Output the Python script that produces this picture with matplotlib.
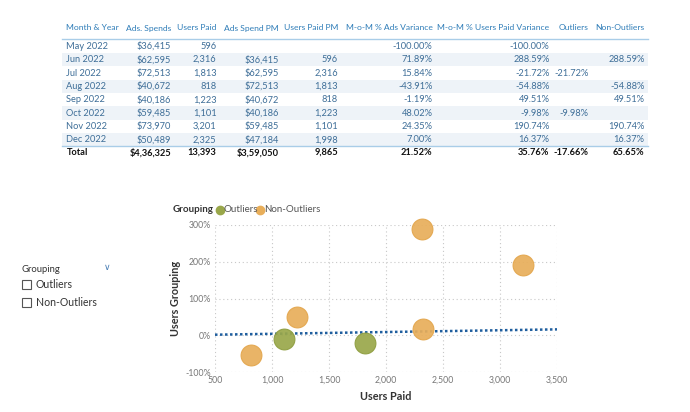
import matplotlib
matplotlib.use("Agg")
import matplotlib.pyplot as plt
from matplotlib.patches import Rectangle
from matplotlib.lines import Line2D

plt.rcParams['font.family'] = ['Lato', 'DejaVu Sans']

# ---------------- data ----------------
months = ["May 2022", "Jun 2022", "Jul 2022", "Aug 2022", "Sep 2022", "Oct 2022", "Nov 2022", "Dec 2022"]
ads_spends = [36415, 62595, 72513, 40672, 40186, 59485, 73970, 50489]
users_paid = [596, 2316, 1813, 818, 1223, 1101, 3201, 2325]
ads_spend_pm = [None, 36415, 62595, 72513, 40672, 40186, 59485, 47184]
users_paid_pm = [None, 596, 2316, 1813, 818, 1223, 1101, 1998]
ads_var = [-100.00, 71.89, 15.84, -43.91, -1.19, 48.02, 24.35, 7.00]
users_var = [-100.00, 288.59, -21.72, -54.88, 49.51, -9.98, 190.74, 16.37]
outliers = [None, None, -21.72, None, None, -9.98, None, None]
non_outliers = [None, 288.59, None, -54.88, 49.51, None, 190.74, 16.37]
totals = [436325, 13393, 359050, 9865, 21.52, 35.76, -17.66, 65.65]
headers = ["Month & Year", "Ads. Spends", "Users Paid", "Ads Spend PM", "Users Paid PM",
           "M-o-M % Ads Variance", "M-o-M % Users Paid Variance", "Outliers", "Non-Outliers"]
trend_x = [500, 3500]
trend_y = [1.5, 16.0]
x_ticks = [500, 1000, 1500, 2000, 2500, 3000, 3500]
y_ticks = [-100, 0, 100, 200, 300]

W, H = 690, 412
fig = plt.figure(figsize=(W / 100, H / 100), dpi=100)
fig.patch.set_facecolor("white")


def fx(px):
    return px / W


def fy(py):
    return 1 - py / H


def indian(n):
    s = str(int(n))
    if len(s) <= 3:
        return s
    last3 = s[-3:]
    rest = s[:-3]
    parts = []
    while len(rest) > 2:
        parts.insert(0, rest[-2:])
        rest = rest[:-2]
    if rest:
        parts.insert(0, rest)
    return ",".join(parts) + "," + last3


def money(v):
    return "" if v is None else "$" + indian(v)


def num(v):
    return "" if v is None else f"{v:,}"


def pct(v):
    return "" if v is None else f"{v:.2f}%"


# ---------------- table ----------------
hdr_col = "#2F7DB8"
row_col = "#3E6E98"
line_col = "#A9CDE8"
band_col = "#EEF3F8"
fs = 6.7
hfs = 6.1

left_x = 66.5
right_x = [171, 216.5, 279, 338, 432.5, 549.5, 588.5, 644.5]
header_y = 28
row_y0 = 46.3
row_h = 13.35

fig.text(fx(left_x), fy(header_y), headers[0], color=hdr_col, fontsize=hfs, ha="left", va="center")
for i, h in enumerate(headers[1:]):
    fig.text(fx(right_x[i]), fy(header_y), h, color=hdr_col, fontsize=hfs, ha="right", va="center")

fig.add_artist(Line2D([fx(62), fx(648)], [fy(38.5), fy(38.5)], color=line_col, lw=1.0))

for r, m in enumerate(months):
    yc = row_y0 + r * row_h
    if r % 2 == 1:
        fig.add_artist(Rectangle((fx(62), fy(yc + row_h / 2)), fx(648) - fx(62), row_h / H,
                                 facecolor=band_col, edgecolor="none", zorder=0))
    vals = [money(ads_spends[r]), num(users_paid[r]), money(ads_spend_pm[r]), num(users_paid_pm[r]),
            pct(ads_var[r]), pct(users_var[r]), pct(outliers[r]), pct(non_outliers[r])]
    fig.text(fx(left_x), fy(yc), m, color=row_col, fontsize=fs, ha="left", va="center")
    for i, v in enumerate(vals):
        fig.text(fx(right_x[i]), fy(yc), v, color=row_col, fontsize=fs, ha="right", va="center")

fig.add_artist(Line2D([fx(62), fx(648)], [fy(146), fy(146)], color=line_col, lw=1.0))

ty = 152.5
tot_strs = [money(totals[0]), num(totals[1]), money(totals[2]), num(totals[3]),
            pct(totals[4]), pct(totals[5]), pct(totals[6]), pct(totals[7])]
fig.text(fx(left_x), fy(ty), "Total", color="#111111", fontsize=fs, ha="left", va="center", fontweight="bold")
for i, v in enumerate(tot_strs):
    fig.text(fx(right_x[i]), fy(ty), v, color="#111111", fontsize=fs, ha="right", va="center", fontweight="bold")

# ---------------- slicer ----------------
fig.text(fx(22), fy(269), "Grouping", color="#333333", fontsize=6.8, ha="left", va="center")
fig.text(fx(107), fy(267.5), "\u2228", color="#4A7FB5", fontsize=6.5, ha="center", va="center",
         family=["DejaVu Sans"])
for yy, lab in [(284.5, "Outliers"), (302.5, "Non-Outliers")]:
    fig.add_artist(Rectangle((fx(21.5), fy(yy + 4.5)), 9 / W, 9 / H, facecolor="white",
                             edgecolor="#555555", lw=0.8))
    fig.text(fx(36), fy(yy), lab, color="#333333", fontsize=7.6, ha="left", va="center")

# ---------------- scatter ----------------
ax = fig.add_axes([fx(215), fy(372), fx(557) - fx(215), (372 - 225) / H])
ax.set_xlim(500, 3500)
ax.set_ylim(-100, 300)
ax.set_xticks(x_ticks)
ax.set_xticklabels([f"{t:,}" for t in x_ticks])
ax.set_yticks(y_ticks)
ax.set_yticklabels([f"{t}%" for t in y_ticks])
for s in ax.spines.values():
    s.set_visible(False)
ax.grid(True, color="#C8C8C8", linestyle=(0, (1, 2.5)), lw=0.8)
ax.tick_params(length=0, labelsize=6.3, colors="#777777", pad=3)
ax.set_axisbelow(True)

ox = [x for x, v in zip(users_paid, outliers) if v is not None]
oy = [v for v in outliers if v is not None]
nx = [x for x, v in zip(users_paid, non_outliers) if v is not None]
ny = [v for v in non_outliers if v is not None]

ax.plot(trend_x, trend_y, color="#1F5E9E", lw=1.8, linestyle=(0, (1, 1)), zorder=2, clip_on=False)
ax.scatter(nx, ny, s=225, color="#E8AE5A", edgecolors="#E3A64C", linewidths=0.8, alpha=0.92,
           zorder=3, clip_on=False)
ax.scatter(ox, oy, s=225, color="#99A74A", edgecolors="#8F9E40", linewidths=0.8, alpha=0.92,
           zorder=3, clip_on=False)

ax.set_xlabel("Users Paid", fontsize=7.8, color="#333333", fontweight="bold", labelpad=4)
ax.set_ylabel("Users Grouping", fontsize=7.8, color="#333333", fontweight="bold", labelpad=3)

# legend
fig.text(fx(173), fy(210), "Grouping", color="#333333", fontsize=7, ha="left", va="center",
         fontweight="bold")
for cx, col, lab in [(219.5, "#99A74A", "Outliers"), (260, "#E8AE5A", "Non-Outliers")]:
    fig.add_artist(Line2D([fx(cx)], [fy(210)], marker="o", markersize=6, color=col, linestyle="none"))
    fig.text(fx(cx + 4.5), fy(210), lab, color="#555555", fontsize=7, ha="left", va="center")

fig.savefig("out.png", dpi=100, facecolor="white")
